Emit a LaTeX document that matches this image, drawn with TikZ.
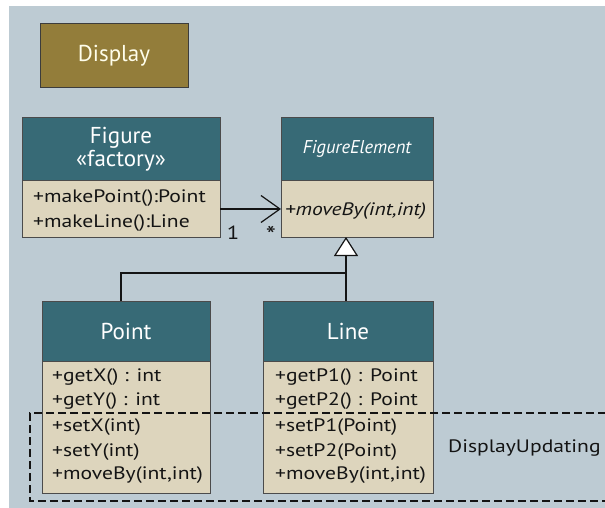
\documentclass[tikz,border=0pt]{standalone}
\usepackage{fontspec}
\setmainfont{PT Sans}
\newfontfamily\bodyfont{PT Sans}[FakeStretch=1.2]
\usetikzlibrary{arrows.meta}
\definecolor{bgc}{RGB}{189,203,211}
\definecolor{headc}{RGB}{55,106,118}
\definecolor{bodyc}{RGB}{221,213,189}
\definecolor{olivec}{RGB}{147,125,58}
\definecolor{framec}{RGB}{75,75,75}
\definecolor{inkc}{RGB}{20,20,20}
\begin{document}
\begin{tikzpicture}[x=1pt,y=-1pt,
  box/.style={draw=framec, line width=1pt, anchor=north west, inner sep=0pt, outer sep=0pt},
  head/.style={box, fill=headc, text=white, font=\fontsize{23}{23}\selectfont, align=center},
  body/.style={box, fill=bodyc},
  member/.style={anchor=base west, inner sep=0pt, text=inkc, font=\bodyfont\fontsize{18}{20}\selectfont},
  conn/.style={draw=inkc, line width=1.2pt},
  mult/.style={inner sep=0pt, text=inkc, font=\bodyfont\fontsize{19}{20}\selectfont}
]
\useasboundingbox (0,0) rectangle (605,508);
\fill[bgc] (9,6) rectangle (605,508);

% Display
\node[box, draw=framec!80!black, fill=olivec, text=white!92!yellow, minimum width=148pt, minimum height=64pt,
      font=\fontsize{23}{24}\selectfont] (disp) at (40,24) {Display};

% Figure
\node[head, minimum width=198pt, minimum height=62pt] (figH) at (22,118) {Figure\\«factory»};
\node[body, minimum width=198pt, minimum height=57pt] (figB) at (22,180) {};
\node[member] (f1) at (33,202) {+makePoint():Point};
\node[member] (f2) at (33,227) {+makeLine():Line};

% FigureElement
\node[head, minimum width=152pt, minimum height=62pt, font=\fontsize{18.5}{20}\selectfont\itshape] (feH) at (281,118) {FigureElement};
\node[body, minimum width=152pt, minimum height=57pt] (feB) at (281,180) {};
\node[member, font=\bodyfont\fontsize{18}{20}\selectfont\itshape] (fe1) at (285,215) {+moveBy(int,int)};

% Point
\node[head, minimum width=168pt, minimum height=60pt] (ptH) at (42,301) {Point};
\node[body, minimum width=168pt, minimum height=132pt] (ptB) at (42,361) {};
\node[member] (p1) at (52,381) {+getX() : int};
\node[member] (p2) at (52,405) {+getY() : int};
\node[member] (p3) at (52,431) {+setX(int)};
\node[member] (p4) at (52,456) {+setY(int)};
\node[member] (p5) at (52,479) {+moveBy(int,int)};

% Line
\node[head, minimum width=170pt, minimum height=60pt] (lnH) at (263,301) {Line};
\node[body, minimum width=170pt, minimum height=132pt] (lnB) at (263,361) {};
\node[member] (l1) at (275,381) {+getP1() : Point};
\node[member] (l2) at (275,405) {+getP2() : Point};
\node[member] (l3) at (275,431) {+setP1(Point)};
\node[member] (l4) at (275,456) {+setP2(Point)};
\node[member] (l5) at (275,479) {+moveBy(int,int)};

% association
\draw[conn, -{Straight Barb[length=19pt, width=27pt, line width=1.2pt]}]
  (figB.east |- 0,209) -- (feB.west |- 0,209);
\node[mult] (m1) at (233,233) {1};
\node[mult, font=\bodyfont\fontsize{24}{24}\selectfont] (m2) at (271,235) {*};

% generalization
\coordinate (bend) at ([xshift=-5pt]ptH.north |- 0,273);
\draw[conn] ([xshift=-5pt]ptH.north) -- (bend) -| ([xshift=-2pt]lnH.north);
\draw[conn, -{Triangle[open, fill=white, length=19pt, width=24pt, line width=1.2pt]}]
  ([xshift=-2pt]lnH.north) -- ([xshift=-2pt]lnH.north |- feB.south);

% DisplayUpdating region
\draw[draw=inkc, line width=1.3pt, dash pattern=on 8pt off 4pt] (606,413) -| (30,501) -- (606,501);
\node[anchor=west, inner sep=0pt, text=inkc, font=\bodyfont\fontsize{18}{20}\selectfont] (du) at (448,448) {DisplayUpdating};
\end{tikzpicture}
\end{document}
